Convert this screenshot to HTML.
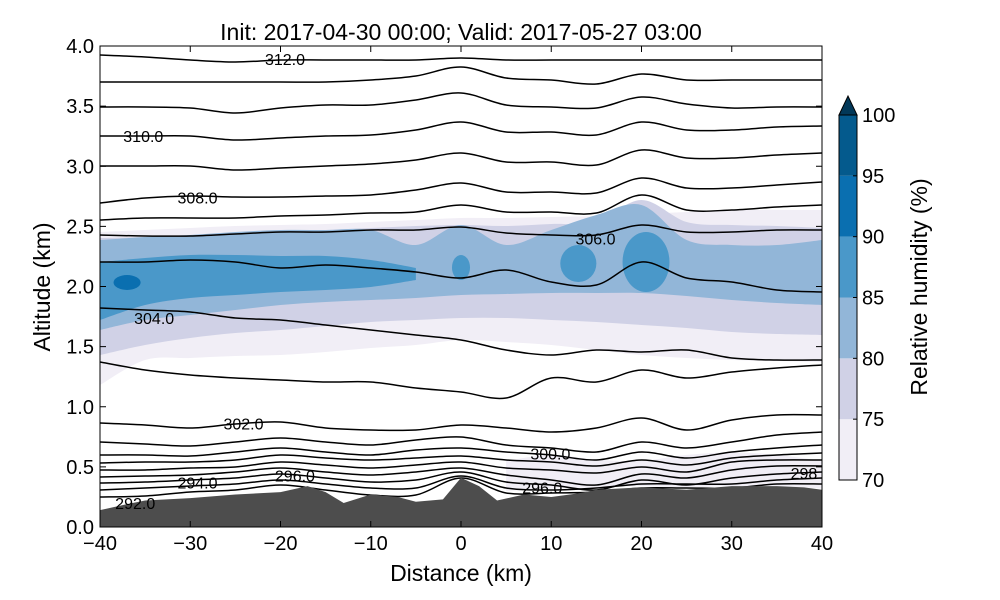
<!DOCTYPE html>
<html><head><meta charset="utf-8"><style>
body{margin:0;background:#fff}
svg{display:block;font-family:"Liberation Sans","DejaVu Sans",sans-serif}
</style></head><body>
<svg id="c" width="1000" height="600"></svg>
<script>
const xs=[-40,-35,-30,-25,-20,-15,-10,-5,0,5,10,15,20,25,30,35,40];
const terrX=[-40,-37,-35,-30,-25,-20,-17,-15,-13,-10,-7,-5,-2,0,2,4,7,10,13,15,20,25,30,35,38,40];
const terrH=[0.14,0.19,0.22,0.24,0.27,0.29,0.34,0.29,0.2,0.27,0.25,0.21,0.23,0.41,0.34,0.22,0.27,0.25,0.28,0.31,0.33,0.31,0.34,0.34,0.33,0.31];
const isoPix=[
[55,57,60,62,60,60,60,60,58,60,60,60,60,60,60,60,60],
[82,82,82,82,82,82,80,76,67,78,80,84,74,80,80,80,80],
[107,107,108,113,108,105,105,100,93,105,107,108,97,104,108,107,107],
[136,136,136,140,138,136,135,130,122,132,132,135,122,130,130,127,126],
[166,166,166,170,168,166,164,160,153,162,162,165,150,158,158,155,153],
[203,198,196,197,197,196,195,190,183,192,192,193,178,188,188,185,182],
[220,218,218,218,216,215,213,212,205,212,212,213,195,210,210,207,205],
[235,236,236,234,232,232,230,230,227,233,235,235,225,232,232,230,230],
[262,262,260,262,268,265,268,272,278,270,282,285,262,278,282,290,292],
[308,310,312,318,320,325,330,335,340,350,355,350,352,350,358,360,360],
[362,370,375,378,380,382,382,388,392,398,378,382,370,378,372,368,365],
[423,425,428,424,422,428,430,430,425,428,432,428,418,430,420,415,415],
[442,444,446,442,438,442,445,440,437,445,448,452,442,448,442,435,432],
[455,455,456,452,448,452,455,450,448,452,455,460,452,458,452,448,445],
[463,462,462,460,455,458,460,458,456,460,462,466,460,465,458,455,453],
[470,470,468,467,462,465,468,465,462,468,470,473,467,472,462,460,460],
[477,476,475,472,468,472,475,472,468,475,480,485,474,478,470,466,466],
[483,482,480,478,474,478,482,480,472,482,485,490,480,485,478,474,472],
[490,488,486,484,480,484,488,488,476,488,490,488,484,484,484,480,478],
[497,496,492,490,485,490,495,495,478,493,493,492,488,488,488,484,484]];
const isoLabels=[["312.0",-19.5,3.89],["310.0",-35.2,3.25],["308.0",-29.2,2.74],["306.0",14.9,2.4],["304.0",-34,1.74],["302.0",-24.1,0.86],["300.0",9.9,0.61],["298",38,0.45],["296.0",-18.4,0.43],["296.0",9,0.33],["294.0",-29.2,0.37],["292.0",-36.1,0.2]];
const rh70Top=[232,230,228,226,225,224,222,220,218,218,217,216,214,212,210,210,210];
const rh70Bot=[385,360,358,356,355,352,348,345,340,342,345,350,355,358,360,361,362];
const rh75Top=[238,237,235,233,232,230,228,226,225,226,224,222,200,222,225,226,228];
const rh75Bot=[355,345,338,333,330,326,322,320,318,318,320,322,325,328,332,334,335];
const rh80Top=[240,237,235,232,230,230,230,245,225,245,230,215,205,240,245,245,240];
const rh80Bot=[330,320,315,310,305,302,300,298,295,294,293,293,293,296,300,303,305];
const rh85X=[-40,-35,-30,-25,-20,-15,-10,-5];
const rh85Top=[262,258,255,255,256,256,260,268];
const rh85Bot=[320,305,298,295,292,290,287,280];
const rh85Blobs=[[0,1.0,255,280],[13,2.0,245,282],[20.5,2.6,232,292]];
const rh90Blobs=[[-37,1.5,275,290]];
const lowRH70=[[5,0.55,0.3],[10,0.6,0.32],[15,0.56,0.33],[20,0.55,0.34],[25,0.6,0.33],[30,0.62,0.34],[35,0.6,0.34],[40,0.55,0.32]];
const cbTicks=[70,75,80,85,90,95,100];
const cbColors=["#f1eef6","#d0d1e6","#92b6d8","#4a98c9","#0a6fb0","#045a8d"];

const L=100,R=822,T=46,B=527;
const X=v=>L+(v+40)/80*(R-L);
const Y=a=>B-a/4*(B-T);
const P2A=p=>(B-p)/120.25;
const NS="http://www.w3.org/2000/svg";
const svg=document.getElementById('c');
function mk(t,a,p){const e=document.createElementNS(NS,t);for(const k in a)e.setAttribute(k,a[k]);(p||svg).appendChild(e);return e;}
function smooth(pts){let d="M"+pts[0][0]+","+pts[0][1];for(let i=0;i<pts.length-1;i++){const p0=pts[i-1]||pts[i],p1=pts[i],p2=pts[i+1],p3=pts[i+2]||p2;d+=" C"+(p1[0]+(p2[0]-p0[0])/6)+","+(p1[1]+(p2[1]-p0[1])/6)+" "+(p2[0]-(p3[0]-p1[0])/6)+","+(p2[1]-(p3[1]-p1[1])/6)+" "+p2[0]+","+p2[1];}return d;}
function bandPath(xa,top,bot){const t=xa.map((x,i)=>[X(x),Y(P2A(top[i]))]);const b=xa.map((x,i)=>[X(x),Y(P2A(bot[i]))]).reverse();const sb=smooth(b);return smooth(t)+" L"+b[0][0]+","+b[0][1]+sb.slice(sb.indexOf(" C"))+"Z";}
mk('defs',{}).innerHTML='<clipPath id="pc"><rect x="100" y="46" width="722" height="481"/></clipPath>';
const g=mk('g',{'clip-path':'url(#pc)'});


let e;
e=mk('path',{d:bandPath(xs,rh70Top,rh70Bot),fill:cbColors[0]},g);
e=mk('path',{d:bandPath(xs,rh75Top,rh75Bot),fill:cbColors[1]},g);
e=mk('path',{d:bandPath(xs,rh80Top,rh80Bot),fill:cbColors[2]},g);
e=mk('path',{d:bandPath(rh85X,rh85Top,rh85Bot),fill:cbColors[3]},g);
rh85Blobs.forEach(b=>{const el=mk('ellipse',{cx:X(b[0]),cy:(Y(P2A(b[2]))+Y(P2A(b[3])))/2,rx:b[1]*9.025,ry:Math.abs(b[3]-b[2])/2,fill:cbColors[3]},g);});
rh90Blobs.forEach(b=>{const el=mk('ellipse',{cx:X(b[0]),cy:(Y(P2A(b[2]))+Y(P2A(b[3])))/2,rx:b[1]*9.025,ry:Math.abs(b[3]-b[2])/2,fill:cbColors[4]},g);});
e=mk('path',{d:bandPath(lowRH70.map(d=>d[0]),lowRH70.map(d=>B-d[1]*120.25),lowRH70.map(d=>B-d[2]*120.25)),fill:cbColors[0]},g);
isoPix.forEach(r=>{const el=mk('path',{d:smooth(xs.map((x,i)=>[X(x),Y(P2A(r[i]))])),fill:'none',stroke:'#000','stroke-width':1.5},g);});
const tp=terrX.map((x,i)=>X(x)+","+Y(terrH[i])).join(" ");
e=mk('polygon',{points:tp+" "+X(40)+","+B+" "+X(-40)+","+B,fill:'#4d4d4d'},g);
isoLabels.forEach(l=>{const el=mk('text',{x:X(l[1]),y:Y(l[2])+6,'font-size':16,'text-anchor':'middle'},g);el.textContent=l[0];});
e=mk('rect',{x:L,y:T,width:R-L,height:B-T,fill:'none',stroke:'#000','stroke-width':1});
const xt=[-40,-30,-20,-10,0,10,20,30,40];
xt.forEach(v=>{mk('line',{x1:X(v),x2:X(v),y1:B,y2:B-6,stroke:'#000'});mk('line',{x1:X(v),x2:X(v),y1:T,y2:T+6,stroke:'#000'});const t=mk('text',{x:X(v),y:B+23,'font-size':20,'text-anchor':'middle'});t.textContent=v<0?"\u2212"+(-v):v;});
const yt=[0,0.5,1,1.5,2,2.5,3,3.5,4];
yt.forEach(v=>{mk('line',{x1:L,x2:L+6,y1:Y(v),y2:Y(v),stroke:'#000'});mk('line',{x1:R,x2:R-6,y1:Y(v),y2:Y(v),stroke:'#000'});const t=mk('text',{x:L-6,y:Y(v)+7,'font-size':20,'text-anchor':'end'});t.textContent=v.toFixed(1);});
e=mk('text',{x:461,y:581,'font-size':23,'text-anchor':'middle'});e.textContent="Distance (km)";
e=mk('text',{x:0,y:0,'font-size':23,'text-anchor':'middle',transform:'translate(50,287) rotate(-90)'});e.textContent="Altitude (km)";
e=mk('text',{x:461,y:40,'font-size':23,'text-anchor':'middle'});e.textContent="Init: 2017-04-30 00:00; Valid: 2017-05-27 03:00";
const cbL=839,cbW=18,cbT=115,cbB=480;
const cy=v=>cbB-(v-70)/30*(cbB-cbT);
cbColors.forEach((c,i)=>{const el=mk('rect',{x:cbL,y:cy(cbTicks[i+1]),width:cbW,height:cy(cbTicks[i])-cy(cbTicks[i+1]),fill:c});});
e=mk('polygon',{points:`${cbL},${cbT} ${cbL+cbW/2},96 ${cbL+cbW},${cbT}`,fill:'#023858',stroke:'#000'});
mk('rect',{x:cbL,y:cbT,width:cbW,height:cbB-cbT,fill:'none',stroke:'#000'});
cbTicks.forEach(v=>{mk('line',{x1:cbL+cbW-4,x2:cbL+cbW,y1:cy(v),y2:cy(v),stroke:'#000'});const t=mk('text',{x:862,y:cy(v)+7,'font-size':20});t.textContent=v;});
e=mk('text',{x:0,y:0,'font-size':23,'text-anchor':'middle',transform:'translate(927,287) rotate(-90)'});e.textContent="Relative humidity (%)";
</script>
</body></html>
